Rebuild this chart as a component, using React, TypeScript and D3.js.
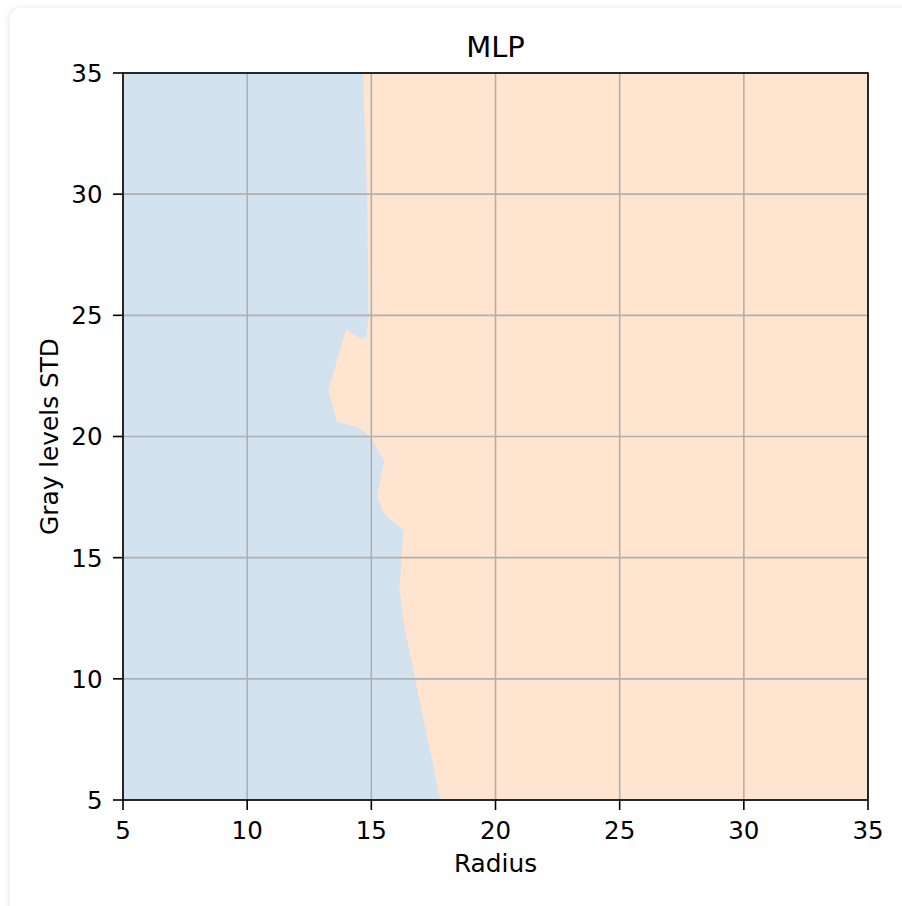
import React from "react";
import * as d3 from "d3";

const title = "MLP";
const xLabel = "Radius";
const yLabel = "Gray levels STD";
const xTicks = [5, 10, 15, 20, 25, 30, 35];
const yTicks = [5, 10, 15, 20, 25, 30, 35];
const xDomain = [5, 35];
const yDomain = [5, 35];

// Decision boundary between class 0 (left, blue) and class 1 (right, orange), top to bottom
const boundaryX = [14.66, 14.83, 14.89, 14.81, 14.62, 13.98, 13.27, 13.62, 14.56, 14.99, 15.52, 15.23, 15.46, 15.79, 16.3, 16.22, 16.13, 16.33, 16.8, 17.78];
const boundaryY = [35, 30.05, 25.1, 24.12, 24.01, 24.4, 21.92, 20.61, 20.34, 19.93, 19.0, 17.59, 16.9, 16.55, 16.14, 14.9, 13.74, 12.15, 9.83, 5];

const classColors = ["#d2e3ef", "#ffe4cf"];

export default function App() {
  const W = 902;
  const H = 906;
  const left = 123, right = 868, top = 73, bottom = 800;
  const x = d3.scaleLinear().domain(xDomain).range([left, right]);
  const y = d3.scaleLinear().domain(yDomain).range([bottom, top]);

  const pts: [number, number][] = [[xDomain[0], yDomain[1]]];
  boundaryX.forEach((bx, i) => pts.push([bx, boundaryY[i]]));
  pts.push([xDomain[0], yDomain[0]]);
  const line = d3.line<[number, number]>().x((d) => x(d[0])).y((d) => y(d[1]));
  const blueD = line(pts) + "Z";

  const font = "DejaVu Sans, sans-serif";
  const tickSize = 24.5;
  return (
    <svg width={W} height={H} style={{ display: "block" }}>
      <style>{`body{margin:0}`}</style>
      <defs>
        <filter id="sh" x="-5%" y="-5%" width="110%" height="110%">
          <feDropShadow dx="-1" dy="0" stdDeviation="3" floodColor="#000" floodOpacity="0.1" />
        </filter>
      </defs>
      <rect x={0} y={0} width={W} height={H} fill="#ffffff" />
      <rect x={10} y={8} width={910} height={920} rx={12} fill="#ffffff" filter="url(#sh)" />
      <rect x={left} y={top} width={right - left} height={bottom - top} fill={classColors[1]} />
      <path d={blueD} fill={classColors[0]} />
      {xTicks.map((t) => (
        <line key={"gx" + t} x1={x(t)} x2={x(t)} y1={top} y2={bottom} stroke="#b0b0b0" strokeWidth={1.6} />
      ))}
      {yTicks.map((t) => (
        <line key={"gy" + t} x1={left} x2={right} y1={y(t)} y2={y(t)} stroke="#b0b0b0" strokeWidth={1.6} />
      ))}
      <rect x={left} y={top} width={right - left} height={bottom - top} fill="none" stroke="#000" strokeWidth={1.6} />
      {xTicks.map((t) => (
        <g key={"tx" + t}>
          <line x1={x(t)} x2={x(t)} y1={bottom} y2={bottom + 10} stroke="#000" strokeWidth={1.6} />
          <text x={x(t)} y={838.5} textAnchor="middle" fontFamily={font} fontSize={tickSize} fill="#000">{t}</text>
        </g>
      ))}
      {yTicks.map((t) => (
        <g key={"ty" + t}>
          <line x1={left - 10} x2={left} y1={y(t)} y2={y(t)} stroke="#000" strokeWidth={1.6} />
          <text x={102.5} y={y(t) + 8.9} textAnchor="end" fontFamily={font} fontSize={tickSize} fill="#000">{t}</text>
        </g>
      ))}
      <text x={(left + right) / 2} y={57} textAnchor="middle" fontFamily={font} fontSize={29} fill="#000">{title}</text>
      <text x={(left + right) / 2} y={872} textAnchor="middle" fontFamily={font} fontSize={24.8} fill="#000">{xLabel}</text>
      <text transform={`translate(57.5,${(top + bottom) / 2}) rotate(-90)`} textAnchor="middle" fontFamily={font} fontSize={24.8} fill="#000">{yLabel}</text>
    </svg>
  );
}
